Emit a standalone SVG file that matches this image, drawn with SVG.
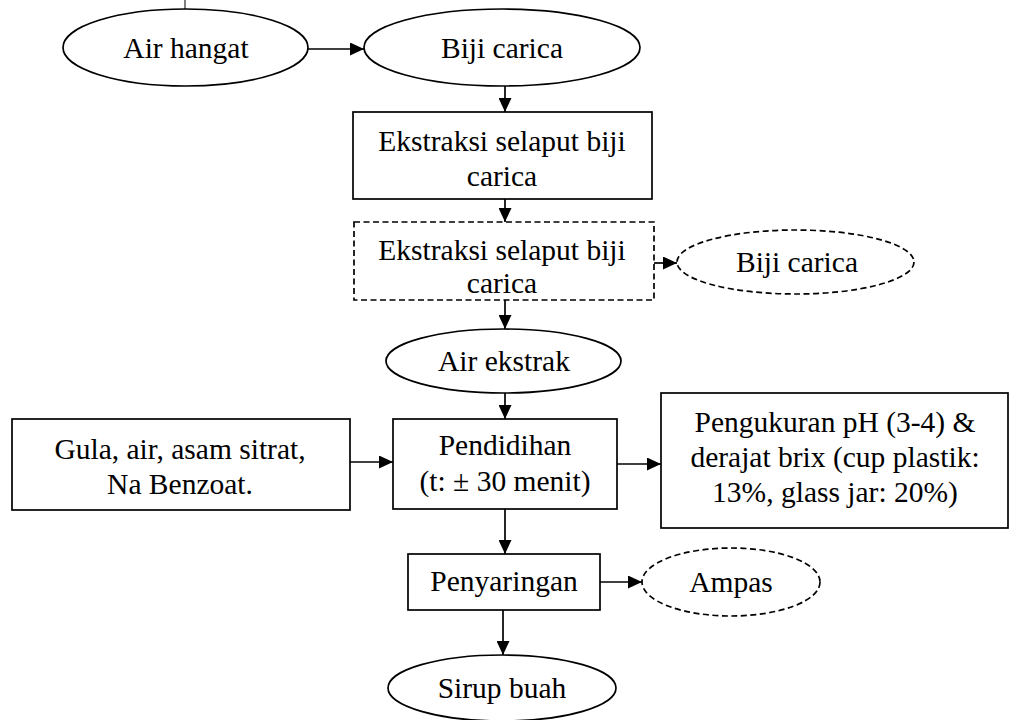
<svg xmlns="http://www.w3.org/2000/svg" width="1009" height="720" viewBox="0 0 1009 720">
  <defs>
    <marker id="arrow" viewBox="0 0 14 13" refX="14" refY="6.5" markerWidth="14" markerHeight="13" markerUnits="userSpaceOnUse" orient="auto">
      <path d="M0,0 L14,6.5 L0,13 Z" fill="#000"/>
    </marker>
  </defs>
  <style>
    .shape { fill: #fff; stroke: #000; stroke-width: 1.7; }
    .dash { stroke-dasharray: 6 3.5; }
    .edge { fill: none; stroke: #000; stroke-width: 1.7; marker-end: url(#arrow); }
    text { font-family: "Liberation Serif", "Times New Roman", serif; font-size: 29.5px; fill: #000; text-anchor: middle; }
  </style>
  <rect width="1009" height="720" fill="#fff"/>

  <!-- small tick above the first ellipse -->
  <line x1="185" y1="0" x2="185" y2="9" stroke="#000" stroke-width="1"/>

  <g id="connectors">
    <line class="edge" x1="308" y1="49" x2="364" y2="49"/>
    <line class="edge" x1="505" y1="86" x2="505" y2="112"/>
    <line class="edge" x1="505" y1="199" x2="505" y2="222"/>
    <line class="edge" x1="654" y1="263" x2="677" y2="263"/>
    <line class="edge" x1="505" y1="300" x2="505" y2="329"/>
    <line class="edge" x1="505" y1="393" x2="505" y2="419"/>
    <line class="edge" x1="350" y1="462" x2="393" y2="462"/>
    <line class="edge" x1="617" y1="464" x2="661" y2="464"/>
    <line class="edge" x1="505" y1="509" x2="505" y2="554"/>
    <line class="edge" x1="600" y1="582" x2="642" y2="582"/>
    <line class="edge" x1="503" y1="610" x2="503" y2="655"/>
  </g>

  <g id="air-hangat">
    <ellipse class="shape" cx="185.5" cy="47.5" rx="122.5" ry="38.5"/>
    <text x="186" y="58">Air hangat</text>
  </g>

  <g id="biji-carica">
    <ellipse class="shape" cx="502" cy="47.5" rx="138" ry="38.5"/>
    <text x="502" y="58">Biji carica</text>
  </g>

  <g id="ekstraksi-1">
    <rect class="shape" x="353" y="112" width="299" height="87"/>
    <text x="502" y="151">Ekstraksi selaput biji</text>
    <text x="502" y="186">carica</text>
  </g>

  <g id="ekstraksi-2">
    <rect class="shape dash" x="354" y="222" width="300" height="78"/>
    <text x="502" y="260">Ekstraksi selaput biji</text>
    <text x="502" y="293">carica</text>
  </g>

  <g id="biji-carica-out">
    <ellipse class="shape dash" cx="795.5" cy="262" rx="118.5" ry="32"/>
    <text x="797" y="272">Biji carica</text>
  </g>

  <g id="air-ekstrak">
    <ellipse class="shape" cx="503.5" cy="361" rx="117.5" ry="32"/>
    <text x="504" y="371">Air ekstrak</text>
  </g>

  <g id="bahan-tambahan">
    <rect class="shape" x="12" y="419" width="338" height="91"/>
    <text x="180" y="459">Gula, air, asam sitrat,</text>
    <text x="180" y="494">Na Benzoat.</text>
  </g>

  <g id="pendidihan">
    <rect class="shape" x="393" y="419" width="224" height="90"/>
    <text x="505" y="455">Pendidihan</text>
    <text x="505" y="491">(t: ± 30 menit)</text>
  </g>

  <g id="pengukuran">
    <rect class="shape" x="661" y="393" width="347" height="135"/>
    <text x="835" y="432">Pengukuran pH (3-4) &amp;</text>
    <text x="835" y="467">derajat brix (cup plastik:</text>
    <text x="835" y="502">13%, glass jar: 20%)</text>
  </g>

  <g id="penyaringan">
    <rect class="shape" x="408" y="554" width="192" height="56"/>
    <text x="504" y="591">Penyaringan</text>
  </g>

  <g id="ampas">
    <ellipse class="shape dash" cx="731" cy="582" rx="89" ry="34"/>
    <text x="731" y="592">Ampas</text>
  </g>

  <g id="sirup-buah">
    <ellipse class="shape" cx="502" cy="688" rx="114" ry="33"/>
    <text x="502" y="698">Sirup buah</text>
  </g>
</svg>
